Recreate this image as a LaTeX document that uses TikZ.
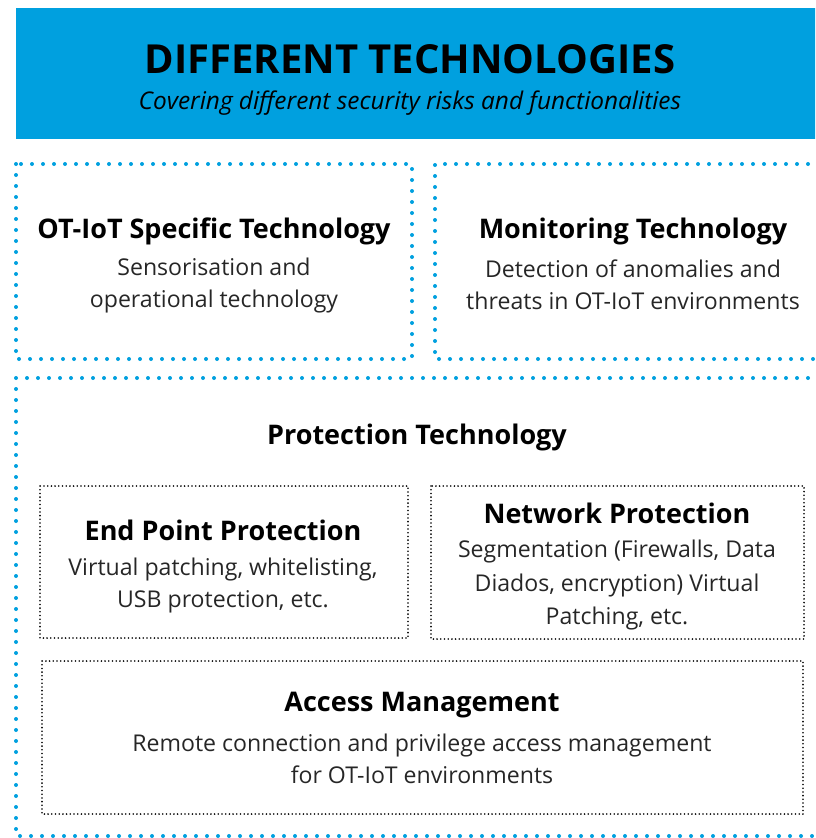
\documentclass[tikz,border=0pt]{standalone}
\usepackage{fontspec}
\setmainfont{Open Sans}
\definecolor{tblue}{RGB}{0,160,223}
\begin{document}
\begin{tikzpicture}[x=1pt,y=-1pt,
  bluedots/.style={draw=tblue,line width=4pt,line cap=round,dash pattern=on 0pt off 11pt},
  blackdots/.style={draw=black,line width=1.8pt,line cap=round,dash pattern=on 0pt off 3.7pt},
  head/.style={font=\fontsize{27}{33}\selectfont\bfseries,inner sep=0pt,anchor=center},
  body/.style={font=\fontsize{23.1}{32}\selectfont,align=center,inner sep=0pt,anchor=center,text=black!85}]
\useasboundingbox (0,0) rectangle (815,838);
\clip (0,0) rectangle (815,838);
% title band
\fill[tblue] (16,8) rectangle (830,139);
\node[font=\fontsize{40}{44}\selectfont\bfseries,inner sep=0pt] (title) at (410,59) {DIFFERENT TECHNOLOGIES};
\node[font=\fontsize{24.4}{28}\selectfont\itshape,inner sep=0pt] (subtitle) at (410,103) {Covering different security risks and functionalities};
% outer blue dotted frames
\draw[bluedots] (16,164) rectangle (412,359);
\draw[bluedots] (830,164) -- (435,164) -- (435,359) -- (830,359);
\draw[bluedots] (830,378) -- (16,378) -- (16,836) -- (830,836);
% top boxes text
\node[head] (otiot) at (214,231) {OT-IoT Specific Technology};
\node[body] (otiotb) at (214,285) {Sensorisation and\\operational technology};
\node[head] (mon) at (633,231) {Monitoring Technology};
\node[body] (monb) at (633,285) {Detection of anomalies and\\threats in OT-IoT environments};
\node[head] (prot) at (417,437) {Protection Technology};
% inner boxes
\draw[blackdots] (40,486) rectangle (408,638);
\draw[blackdots] (431,486) rectangle (804,639);
\draw[blackdots] (42,661) rectangle (803,814);
\node[head] (ep) at (223,530) {End Point Protection};
\node[body] (epb) at (223,585) {Virtual patching, whitelisting,\\USB protection, etc.};
\node[head] (np) at (617,513) {Network Protection};
\node[body,font=\fontsize{23.1}{33.5}\selectfont] (npb) at (617,585) {Segmentation (Firewalls, Data\\Diados, encryption) Virtual\\Patching, etc.};
\node[head] (am) at (422,705) {Access Management};
\node[body] (amb) at (422,759) {Remote connection and privilege access management\\for OT-IoT environments};
\end{tikzpicture}
\end{document}
